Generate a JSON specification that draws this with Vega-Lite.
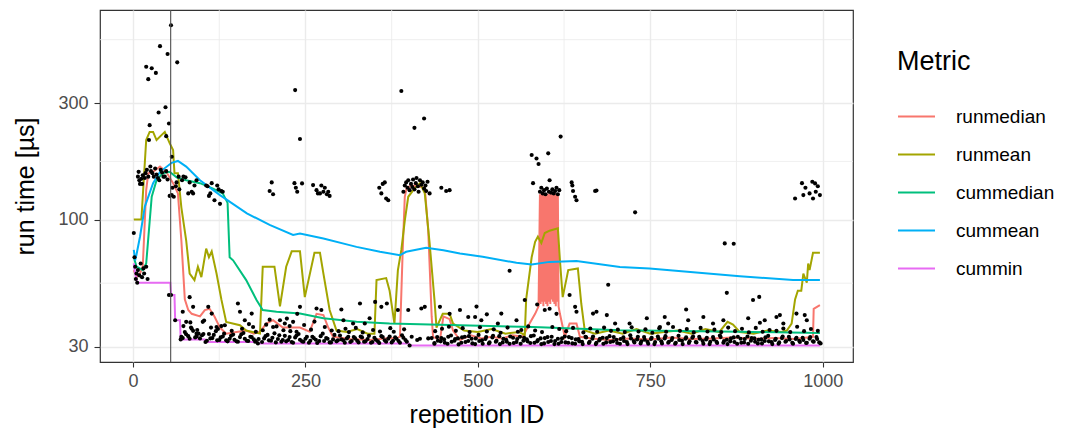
{
  "$schema": "https://vega.github.io/schema/vega-lite/v6.json",
  "width": 753,
  "height": 352,
  "autosize": {"type": "none"},
  "padding": {"left": 100, "top": 10, "right": 236, "bottom": 74},
  "background": "white",
  "config": {
    "font": "Liberation Sans",
    "view": {"stroke": "#333333", "strokeWidth": 1.2},
    "axis": {"domain": false, "gridColor": "#EBEBEB", "gridWidth": 1.4, "tickColor": "#333333", "tickWidth": 1.1, "labelColor": "#4D4D4D", "labelFontSize": 18, "titleFontSize": 25, "titleFontWeight": "normal", "titleColor": "black"},
    "legend": {"padding": 0}
  },
  "datasets": {
    "gx": [{"x": 125}, {"x": 375}, {"x": 625}, {"x": 875}],
    "gy": [{"y": 54.77}, {"y": 173.2}, {"y": 547.7}],
    "vl": [{"x": 54.5}],
    "lns": [
      {"x":1,"y":62,"m":"runmedian"},{"x":5,"y":58,"m":"runmedian"},{"x":10,"y":60,"m":"runmedian"},{"x":14,"y":64,"m":"runmedian"},{"x":17,"y":99,"m":"runmedian"},{"x":19,"y":132,"m":"runmedian"},{"x":22,"y":155,"m":"runmedian"},{"x":29,"y":157,"m":"runmedian"},{"x":39,"y":165,"m":"runmedian"},{"x":48,"y":157,"m":"runmedian"},{"x":58,"y":141,"m":"runmedian"},{"x":65,"y":128,"m":"runmedian"},{"x":70,"y":82,"m":"runmedian"},{"x":75,"y":47,"m":"runmedian"},{"x":80,"y":42.5,"m":"runmedian"},{"x":85,"y":41,"m":"runmedian"},{"x":97,"y":40,"m":"runmedian"},{"x":104,"y":42.5,"m":"runmedian"},{"x":111,"y":43,"m":"runmedian"},{"x":118,"y":40,"m":"runmedian"},{"x":126,"y":36,"m":"runmedian"},{"x":135,"y":34,"m":"runmedian"},{"x":150,"y":34.5,"m":"runmedian"},{"x":164,"y":35,"m":"runmedian"},{"x":175,"y":34,"m":"runmedian"},{"x":184,"y":34.6,"m":"runmedian"},{"x":193,"y":37.4,"m":"runmedian"},{"x":203,"y":38.6,"m":"runmedian"},{"x":217,"y":36,"m":"runmedian"},{"x":232,"y":36,"m":"runmedian"},{"x":242,"y":36,"m":"runmedian"},{"x":256,"y":34.6,"m":"runmedian"},{"x":266,"y":41,"m":"runmedian"},{"x":276,"y":40.5,"m":"runmedian"},{"x":283,"y":36,"m":"runmedian"},{"x":290,"y":33,"m":"runmedian"},{"x":314,"y":32.3,"m":"runmedian"},{"x":343,"y":32,"m":"runmedian"},{"x":365,"y":32.5,"m":"runmedian"},{"x":382,"y":32.6,"m":"runmedian"},{"x":387,"y":33,"m":"runmedian"},{"x":391,"y":75,"m":"runmedian"},{"x":394,"y":124,"m":"runmedian"},{"x":397,"y":136,"m":"runmedian"},{"x":408,"y":138,"m":"runmedian"},{"x":423,"y":135,"m":"runmedian"},{"x":428,"y":90,"m":"runmedian"},{"x":433,"y":40,"m":"runmedian"},{"x":435,"y":33,"m":"runmedian"},{"x":445,"y":32,"m":"runmedian"},{"x":450,"y":40,"m":"runmedian"},{"x":459,"y":39,"m":"runmedian"},{"x":464,"y":35,"m":"runmedian"},{"x":474,"y":32,"m":"runmedian"},{"x":490,"y":33.5,"m":"runmedian"},{"x":505,"y":32.5,"m":"runmedian"},{"x":520,"y":33,"m":"runmedian"},{"x":535,"y":32.5,"m":"runmedian"},{"x":550,"y":33.5,"m":"runmedian"},{"x":565,"y":33,"m":"runmedian"},{"x":575,"y":37.4,"m":"runmedian"},{"x":583,"y":41,"m":"runmedian"},{"x":588,"y":44,"m":"runmedian"},{"x":590,"y":127,"m":"runmedian"},{"x":591,"y":45,"m":"runmedian"},{"x":592,"y":128,"m":"runmedian"},{"x":593,"y":46,"m":"runmedian"},{"x":594,"y":127,"m":"runmedian"},{"x":595,"y":44,"m":"runmedian"},{"x":596,"y":128,"m":"runmedian"},{"x":597,"y":46,"m":"runmedian"},{"x":598,"y":127,"m":"runmedian"},{"x":599,"y":45,"m":"runmedian"},{"x":600,"y":128,"m":"runmedian"},{"x":601,"y":44,"m":"runmedian"},{"x":602,"y":127,"m":"runmedian"},{"x":603,"y":46,"m":"runmedian"},{"x":604,"y":128,"m":"runmedian"},{"x":605,"y":45,"m":"runmedian"},{"x":606,"y":127,"m":"runmedian"},{"x":607,"y":47,"m":"runmedian"},{"x":608,"y":128,"m":"runmedian"},{"x":609,"y":46,"m":"runmedian"},{"x":610,"y":127,"m":"runmedian"},{"x":611,"y":45,"m":"runmedian"},{"x":612,"y":128,"m":"runmedian"},{"x":613,"y":44,"m":"runmedian"},{"x":614,"y":127,"m":"runmedian"},{"x":615,"y":46,"m":"runmedian"},{"x":616,"y":126,"m":"runmedian"},{"x":617,"y":44,"m":"runmedian"},{"x":619,"y":41,"m":"runmedian"},{"x":626,"y":33,"m":"runmedian"},{"x":633,"y":37.4,"m":"runmedian"},{"x":643,"y":37.4,"m":"runmedian"},{"x":648,"y":33,"m":"runmedian"},{"x":665,"y":32.5,"m":"runmedian"},{"x":690,"y":32,"m":"runmedian"},{"x":720,"y":32.5,"m":"runmedian"},{"x":750,"y":32.2,"m":"runmedian"},{"x":780,"y":32.8,"m":"runmedian"},{"x":810,"y":32.3,"m":"runmedian"},{"x":840,"y":32.5,"m":"runmedian"},{"x":870,"y":32.8,"m":"runmedian"},{"x":900,"y":32.4,"m":"runmedian"},{"x":930,"y":32.6,"m":"runmedian"},{"x":960,"y":32.3,"m":"runmedian"},{"x":986,"y":33,"m":"runmedian"},{"x":987,"y":43,"m":"runmedian"},{"x":996,"y":44.5,"m":"runmedian"},
      {"x":1,"y":100,"m":"runmean"},{"x":12,"y":100,"m":"runmean"},{"x":19,"y":212,"m":"runmean"},{"x":24,"y":229,"m":"runmean"},{"x":29,"y":229,"m":"runmean"},{"x":34,"y":212,"m":"runmean"},{"x":46,"y":229,"m":"runmean"},{"x":53,"y":206,"m":"runmean"},{"x":58,"y":193,"m":"runmean"},{"x":60,"y":155,"m":"runmean"},{"x":65,"y":155,"m":"runmean"},{"x":70,"y":112,"m":"runmean"},{"x":77,"y":82,"m":"runmean"},{"x":82,"y":60,"m":"runmean"},{"x":89,"y":56.4,"m":"runmean"},{"x":94,"y":64,"m":"runmean"},{"x":99,"y":58,"m":"runmean"},{"x":106,"y":76,"m":"runmean"},{"x":110,"y":70,"m":"runmean"},{"x":114,"y":74,"m":"runmean"},{"x":121,"y":60,"m":"runmean"},{"x":128,"y":47,"m":"runmean"},{"x":135,"y":38,"m":"runmean"},{"x":155,"y":36.8,"m":"runmean"},{"x":164,"y":35,"m":"runmean"},{"x":184,"y":34,"m":"runmean"},{"x":188,"y":64,"m":"runmean"},{"x":205,"y":64,"m":"runmean"},{"x":213,"y":44,"m":"runmean"},{"x":222,"y":64,"m":"runmean"},{"x":230,"y":74,"m":"runmean"},{"x":242,"y":74,"m":"runmean"},{"x":249,"y":48,"m":"runmean"},{"x":263,"y":73,"m":"runmean"},{"x":271,"y":73,"m":"runmean"},{"x":276,"y":60,"m":"runmean"},{"x":285,"y":42.5,"m":"runmean"},{"x":295,"y":35,"m":"runmean"},{"x":310,"y":34.5,"m":"runmean"},{"x":325,"y":35.5,"m":"runmean"},{"x":340,"y":34,"m":"runmean"},{"x":350,"y":34,"m":"runmean"},{"x":353,"y":56.4,"m":"runmean"},{"x":367,"y":57.5,"m":"runmean"},{"x":372,"y":51,"m":"runmean"},{"x":379,"y":37.4,"m":"runmean"},{"x":384,"y":62,"m":"runmean"},{"x":389,"y":75,"m":"runmean"},{"x":394,"y":99,"m":"runmean"},{"x":399,"y":124,"m":"runmean"},{"x":408,"y":134,"m":"runmean"},{"x":416,"y":141,"m":"runmean"},{"x":423,"y":128,"m":"runmean"},{"x":430,"y":80,"m":"runmean"},{"x":437,"y":47,"m":"runmean"},{"x":440,"y":36,"m":"runmean"},{"x":449,"y":41,"m":"runmean"},{"x":459,"y":41,"m":"runmean"},{"x":464,"y":37.4,"m":"runmean"},{"x":480,"y":35,"m":"runmean"},{"x":500,"y":34.5,"m":"runmean"},{"x":520,"y":35.5,"m":"runmean"},{"x":540,"y":34,"m":"runmean"},{"x":560,"y":34.5,"m":"runmean"},{"x":568,"y":33.5,"m":"runmean"},{"x":570,"y":47,"m":"runmean"},{"x":578,"y":70,"m":"runmean"},{"x":583,"y":81,"m":"runmean"},{"x":587,"y":85,"m":"runmean"},{"x":592,"y":80,"m":"runmean"},{"x":597,"y":88,"m":"runmean"},{"x":604,"y":90,"m":"runmean"},{"x":616,"y":92,"m":"runmean"},{"x":619,"y":68,"m":"runmean"},{"x":623,"y":48,"m":"runmean"},{"x":629,"y":58,"m":"runmean"},{"x":631,"y":62,"m":"runmean"},{"x":645,"y":63,"m":"runmean"},{"x":650,"y":45,"m":"runmean"},{"x":655,"y":35,"m":"runmean"},{"x":670,"y":34,"m":"runmean"},{"x":690,"y":35,"m":"runmean"},{"x":710,"y":34,"m":"runmean"},{"x":730,"y":35.5,"m":"runmean"},{"x":750,"y":34,"m":"runmean"},{"x":770,"y":34.5,"m":"runmean"},{"x":790,"y":35,"m":"runmean"},{"x":810,"y":34,"m":"runmean"},{"x":830,"y":35.5,"m":"runmean"},{"x":850,"y":34.5,"m":"runmean"},{"x":862,"y":38,"m":"runmean"},{"x":870,"y":37,"m":"runmean"},{"x":880,"y":34.5,"m":"runmean"},{"x":900,"y":34,"m":"runmean"},{"x":920,"y":35,"m":"runmean"},{"x":940,"y":34.5,"m":"runmean"},{"x":948,"y":35,"m":"runmean"},{"x":955,"y":37.4,"m":"runmean"},{"x":960,"y":47,"m":"runmean"},{"x":964,"y":51,"m":"runmean"},{"x":969,"y":51,"m":"runmean"},{"x":972,"y":60,"m":"runmean"},{"x":977,"y":55,"m":"runmean"},{"x":979,"y":66,"m":"runmean"},{"x":981,"y":62,"m":"runmean"},{"x":986,"y":73,"m":"runmean"},{"x":996,"y":73,"m":"runmean"},
      {"x":1,"y":70,"m":"cummedian"},{"x":5,"y":64,"m":"cummedian"},{"x":14,"y":62,"m":"cummedian"},{"x":19,"y":66,"m":"cummedian"},{"x":24,"y":98,"m":"cummedian"},{"x":27,"y":124,"m":"cummedian"},{"x":34,"y":145,"m":"cummedian"},{"x":43,"y":155,"m":"cummedian"},{"x":53,"y":157,"m":"cummedian"},{"x":63,"y":149,"m":"cummedian"},{"x":77,"y":145,"m":"cummedian"},{"x":97,"y":141,"m":"cummedian"},{"x":116,"y":134,"m":"cummedian"},{"x":130,"y":128,"m":"cummedian"},{"x":137,"y":117,"m":"cummedian"},{"x":140,"y":70,"m":"cummedian"},{"x":145,"y":68,"m":"cummedian"},{"x":164,"y":56.4,"m":"cummedian"},{"x":179,"y":46.7,"m":"cummedian"},{"x":188,"y":42.5,"m":"cummedian"},{"x":208,"y":41.8,"m":"cummedian"},{"x":242,"y":41.1,"m":"cummedian"},{"x":276,"y":39.3,"m":"cummedian"},{"x":324,"y":38,"m":"cummedian"},{"x":372,"y":37.4,"m":"cummedian"},{"x":474,"y":36.8,"m":"cummedian"},{"x":580,"y":36.2,"m":"cummedian"},{"x":706,"y":35.1,"m":"cummedian"},{"x":880,"y":34.6,"m":"cummedian"},{"x":996,"y":34.2,"m":"cummedian"},
      {"x":1,"y":75,"m":"cummean"},{"x":3,"y":68,"m":"cummean"},{"x":5,"y":72,"m":"cummean"},{"x":10,"y":85,"m":"cummean"},{"x":17,"y":113,"m":"cummean"},{"x":29,"y":141,"m":"cummean"},{"x":39,"y":157,"m":"cummean"},{"x":56,"y":171,"m":"cummean"},{"x":65,"y":174,"m":"cummean"},{"x":77,"y":165,"m":"cummean"},{"x":97,"y":145,"m":"cummean"},{"x":126,"y":126,"m":"cummean"},{"x":165,"y":106,"m":"cummean"},{"x":198,"y":95,"m":"cummean"},{"x":232,"y":86.5,"m":"cummean"},{"x":242,"y":87.7,"m":"cummean"},{"x":276,"y":83.6,"m":"cummean"},{"x":314,"y":78.5,"m":"cummean"},{"x":324,"y":77.2,"m":"cummean"},{"x":358,"y":73.7,"m":"cummean"},{"x":387,"y":71.4,"m":"cummean"},{"x":396,"y":73.7,"m":"cummean"},{"x":425,"y":76.5,"m":"cummean"},{"x":450,"y":74.8,"m":"cummean"},{"x":474,"y":72.6,"m":"cummean"},{"x":507,"y":70.3,"m":"cummean"},{"x":556,"y":66.4,"m":"cummean"},{"x":578,"y":65.4,"m":"cummean"},{"x":604,"y":67,"m":"cummean"},{"x":643,"y":67.5,"m":"cummean"},{"x":706,"y":63.9,"m":"cummean"},{"x":749,"y":63,"m":"cummean"},{"x":880,"y":58.5,"m":"cummean"},{"x":957,"y":56.4,"m":"cummean"},{"x":996,"y":56.4,"m":"cummean"},
      {"x":1,"y":66,"m":"cummin"},{"x":3,"y":60,"m":"cummin"},{"x":6,"y":55,"m":"cummin"},{"x":54,"y":55,"m":"cummin"},{"x":55,"y":49,"m":"cummin"},{"x":60,"y":49,"m":"cummin"},{"x":61,"y":38.6,"m":"cummin"},{"x":68,"y":38.6,"m":"cummin"},{"x":69,"y":32.2,"m":"cummin"},{"x":104,"y":32.2,"m":"cummin"},{"x":105,"y":31.4,"m":"cummin"},{"x":180,"y":31.4,"m":"cummin"},{"x":181,"y":31.0,"m":"cummin"},{"x":400,"y":31.0,"m":"cummin"},{"x":401,"y":30.4,"m":"cummin"},{"x":996,"y":30.4,"m":"cummin"}
    ],
    "pts": [
      {"x":1,"y":88},{"x":2,"y":70},{"x":3,"y":64},{"x":4,"y":57},{"x":5,"y":60},{"x":6,"y":55},{"x":7,"y":62},{"x":9,"y":59},{"x":11,"y":66},{"x":13,"y":58},{"x":15,"y":63},{"x":16,"y":60},{"x":19,"y":64},{"x":21,"y":57},
      {"x":7,"y":150},{"x":8,"y":157},{"x":9,"y":145},{"x":10,"y":140},{"x":12,"y":147},{"x":13,"y":140},{"x":14,"y":152},{"x":17,"y":148},{"x":18,"y":155},{"x":20,"y":160},{"x":22,"y":150},{"x":25,"y":165},{"x":26,"y":158},{"x":28,"y":155},{"x":30,"y":150},{"x":32,"y":162},{"x":34,"y":153},{"x":36,"y":148},{"x":38,"y":145},{"x":40,"y":160},{"x":42,"y":156},{"x":44,"y":150},{"x":46,"y":150},{"x":48,"y":158},{"x":50,"y":146},{"x":52,"y":49},{"x":53,"y":125},{"x":55,"y":49},{"x":56,"y":126},{"x":57,"y":135},{"x":59,"y":124},{"x":61,"y":38.6},{"x":62,"y":137},{"x":63,"y":142},{"x":66,"y":150},{"x":67,"y":133},{"x":69,"y":32.2},
      {"x":19,"y":424},{"x":22,"y":377},{"x":23,"y":212},{"x":24,"y":244},{"x":27,"y":418},{"x":33,"y":400},{"x":37,"y":275},{"x":39,"y":515},{"x":47,"y":289},{"x":48,"y":220},{"x":50,"y":478},{"x":52,"y":248},{"x":55,"y":628},{"x":56,"y":181},{"x":64,"y":442},
      {"x":71,"y":145},{"x":73,"y":150},{"x":76,"y":149},{"x":80,"y":128},{"x":82,"y":142},{"x":85,"y":130},{"x":87,"y":128},{"x":89,"y":138},{"x":92,"y":145},{"x":106,"y":138},{"x":108,"y":137},{"x":110,"y":125},{"x":112,"y":128},{"x":114,"y":141},{"x":118,"y":120},{"x":122,"y":138},{"x":124,"y":133},{"x":126,"y":116},{"x":128,"y":131},{"x":130,"y":130},
      {"x":72,"y":41.8},{"x":77,"y":38},{"x":82,"y":48},{"x":84,"y":36},{"x":87,"y":43.8},{"x":92,"y":34},{"x":101,"y":38},{"x":109,"y":43.8},{"x":114,"y":41.1},{"x":121,"y":36.2},{"x":128,"y":36.5},{"x":152,"y":45.2},{"x":155,"y":41.8},{"x":162,"y":38.6},{"x":172,"y":41.1},{"x":174,"y":36.2},{"x":188,"y":35.1},{"x":203,"y":36.2},{"x":213,"y":38.6},{"x":220,"y":37.4},{"x":227,"y":36.5},{"x":232,"y":38},{"x":237,"y":34.6},{"x":242,"y":43.8},{"x":238,"y":41},{"x":266,"y":43.1},{"x":273,"y":42.5},{"x":302,"y":42.7},{"x":305,"y":38.6},{"x":319,"y":37.4},{"x":329,"y":45.2},{"x":336,"y":37.4},{"x":343,"y":39.3},{"x":351,"y":45.9},{"x":360,"y":43.8},{"x":368,"y":45.2},{"x":384,"y":42.5},{"x":399,"y":42.5},{"x":418,"y":43.1},{"x":423,"y":43.8},{"x":445,"y":43.8},{"x":459,"y":41},{"x":474,"y":42.5},{"x":486,"y":39.8},{"x":496,"y":39.8},{"x":498,"y":43.9},{"x":505,"y":38.6},{"x":513,"y":40.8},{"x":529,"y":37.4},{"x":534,"y":41.1},{"x":556,"y":38.6},{"x":568,"y":46.7},{"x":586,"y":44.8},{"x":597,"y":42.5},{"x":604,"y":43},{"x":614,"y":41},{"x":633,"y":49},{"x":641,"y":43.8},{"x":643,"y":41.8},{"x":667,"y":41.1},{"x":672,"y":41.8},{"x":687,"y":40.5},{"x":699,"y":37.4},{"x":720,"y":37.4},{"x":745,"y":39.3},{"x":764,"y":36.2},{"x":771,"y":39.8},{"x":776,"y":37.4},{"x":802,"y":42.7},{"x":805,"y":38.6},{"x":827,"y":39.8},{"x":841,"y":37.4},{"x":856,"y":38.6},{"x":892,"y":39.3},{"x":899,"y":46.7},{"x":908,"y":48.1},{"x":909,"y":37.7},{"x":916,"y":38.6},{"x":933,"y":39.8},{"x":938,"y":40.5},{"x":943,"y":37.4},{"x":962,"y":41.1},{"x":974,"y":40.5},{"x":977,"y":38.6},
      {"x":546,"y":61.6},{"x":689,"y":54},{"x":861,"y":50},{"x":858,"y":79.8},{"x":871,"y":79.5},{"x":728,"y":107},
      {"x":201,"y":142},{"x":198,"y":131},{"x":203,"y":127},{"x":234,"y":141},{"x":245,"y":140.7},{"x":238,"y":130},{"x":236,"y":135},{"x":261,"y":138.5},{"x":266,"y":132},{"x":268,"y":128},{"x":271,"y":128},{"x":273,"y":138},{"x":276,"y":130},{"x":278,"y":135},{"x":281,"y":127},{"x":283,"y":130},{"x":285,"y":125},
      {"x":235,"y":340},{"x":242,"y":214},
      {"x":357,"y":135},{"x":360,"y":128},{"x":362,"y":140},{"x":365,"y":142},{"x":367,"y":122},{"x":370,"y":120},
      {"x":389,"y":337},{"x":408,"y":238},{"x":422,"y":260},
      {"x":392,"y":130},{"x":394,"y":138},{"x":396,"y":142},{"x":398,"y":135},{"x":399,"y":145},{"x":401,"y":132},{"x":403,"y":140},{"x":405,"y":136},{"x":406,"y":146},{"x":408,"y":133},{"x":410,"y":141},{"x":411,"y":148},{"x":413,"y":137},{"x":414,"y":130},{"x":416,"y":145},{"x":418,"y":139},{"x":420,"y":142},{"x":422,"y":134},{"x":424,"y":138},{"x":425,"y":131},{"x":427,"y":143},{"x":430,"y":128},
      {"x":404,"y":33},{"x":412,"y":32},{"x":428,"y":32.5},
      {"x":454,"y":131},{"x":459,"y":132},{"x":447,"y":135},
      {"x":578,"y":184},{"x":585,"y":178},{"x":588,"y":169},{"x":602,"y":187},{"x":620,"y":219},{"x":580,"y":141},{"x":590,"y":130},{"x":592,"y":135},{"x":594,"y":128},{"x":596,"y":132},{"x":598,"y":127},{"x":600,"y":134},{"x":603,"y":130},{"x":604,"y":145},{"x":606,"y":129},{"x":608,"y":133},{"x":610,"y":128},{"x":612,"y":131},{"x":614,"y":135},{"x":616,"y":127},{"x":618,"y":132},{"x":636,"y":142},{"x":638,"y":131},{"x":641,"y":124},{"x":643,"y":120},{"x":637,"y":138},{"x":670,"y":131},{"x":672,"y":131.5},
      {"x":960,"y":122},{"x":970,"y":141},{"x":972,"y":126},{"x":981,"y":128},{"x":985,"y":143},{"x":986,"y":122},{"x":989,"y":140.7},{"x":993,"y":137},{"x":996,"y":126},{"x":975,"y":135},{"x":990,"y":130},
      {"x":70,"y":33.0},{"x":75,"y":34.5},{"x":80,"y":33.2},{"x":85,"y":35.6},{"x":90,"y":32.8},{"x":95,"y":34.0},{"x":100,"y":33.5},{"x":105,"y":31.4},{"x":110,"y":33.9},{"x":115,"y":32.6},{"x":120,"y":34.8},{"x":125,"y":32.0},{"x":130,"y":33.1},{"x":135,"y":31.9},{"x":140,"y":32.4},{"x":145,"y":33.7},{"x":150,"y":31.6},{"x":155,"y":32.9},{"x":160,"y":34.2},{"x":165,"y":31.8},{"x":170,"y":33.0},{"x":175,"y":32.2},{"x":178,"y":31.7},{"x":181,"y":31.0},{"x":190,"y":32.5},{"x":195,"y":33.6},{"x":200,"y":31.8},{"x":205,"y":34.1},{"x":210,"y":32.3},{"x":215,"y":31.5},{"x":220,"y":33.3},{"x":225,"y":32.0},{"x":230,"y":31.4},{"x":235,"y":32.8},{"x":240,"y":33.9},{"x":245,"y":31.6},{"x":250,"y":32.4},{"x":255,"y":31.2},{"x":260,"y":33.0},{"x":265,"y":32.1},{"x":270,"y":31.7},{"x":275,"y":34.0},{"x":280,"y":32.6},{"x":285,"y":31.3},{"x":290,"y":32.2},{"x":295,"y":31.6},{"x":300,"y":33.4},{"x":305,"y":31.9},{"x":310,"y":32.5},{"x":315,"y":31.4},{"x":320,"y":32.9},{"x":325,"y":31.8},{"x":330,"y":33.1},{"x":335,"y":31.5},{"x":340,"y":32.3},{"x":345,"y":31.2},{"x":350,"y":32.7},{"x":355,"y":31.6},{"x":360,"y":33.2},{"x":365,"y":31.9},{"x":370,"y":32.4},{"x":375,"y":31.3},{"x":380,"y":32.8},{"x":385,"y":31.7},{"x":390,"y":33.5},{"x":395,"y":32.0},{"x":401,"y":30.4},{"x":416,"y":32.4},{"x":433,"y":32.6},{"x":437,"y":31.1},{"x":441,"y":32.9},{"x":446,"y":31.6},{"x":451,"y":32.2},{"x":456,"y":30.9},{"x":461,"y":33.4},{"x":466,"y":31.8},{"x":471,"y":32.5},{"x":476,"y":31.2},{"x":481,"y":33.0},{"x":486,"y":31.7},{"x":491,"y":32.4},{"x":496,"y":30.8},{"x":501,"y":33.6},{"x":506,"y":31.9},{"x":511,"y":32.3},{"x":516,"y":31.0},{"x":521,"y":32.8},{"x":526,"y":31.5},{"x":531,"y":33.2},{"x":536,"y":31.3},{"x":541,"y":32.1},{"x":546,"y":30.9},{"x":551,"y":32.7},{"x":556,"y":31.4},{"x":561,"y":33.0},{"x":566,"y":31.8},{"x":571,"y":32.2},{"x":576,"y":31.1},{"x":581,"y":33.4},{"x":586,"y":31.6},{"x":591,"y":32.5},{"x":596,"y":31.0},{"x":601,"y":32.9},{"x":606,"y":31.7},{"x":611,"y":30.8},{"x":616,"y":32.4},{"x":621,"y":31.4},{"x":626,"y":33.1},{"x":631,"y":31.2},{"x":636,"y":32.6},{"x":641,"y":30.9},{"x":646,"y":32.3},{"x":651,"y":31.5},{"x":656,"y":33.0},{"x":661,"y":31.1},{"x":666,"y":32.4},{"x":671,"y":30.8},{"x":676,"y":31.9},{"x":681,"y":32.7},{"x":686,"y":31.3},{"x":691,"y":33.2},{"x":696,"y":31.6},{"x":701,"y":32.1},{"x":706,"y":30.9},{"x":711,"y":32.8},{"x":716,"y":31.4},{"x":721,"y":33.5},{"x":726,"y":31.7},{"x":731,"y":32.2},{"x":736,"y":31.0},{"x":741,"y":32.9},{"x":746,"y":31.5},{"x":751,"y":32.3},{"x":756,"y":30.8},{"x":761,"y":33.1},{"x":766,"y":31.6},{"x":771,"y":32.5},{"x":776,"y":31.2},{"x":781,"y":32.0},{"x":786,"y":30.9},{"x":791,"y":33.3},{"x":796,"y":31.8},{"x":801,"y":32.4},{"x":806,"y":31.1},{"x":811,"y":32.7},{"x":816,"y":31.4},{"x":821,"y":33.0},{"x":826,"y":31.7},{"x":831,"y":32.2},{"x":836,"y":30.8},{"x":841,"y":32.9},{"x":846,"y":31.5},{"x":851,"y":33.4},{"x":856,"y":31.2},{"x":861,"y":32.1},{"x":866,"y":31.6},{"x":871,"y":32.8},{"x":876,"y":30.9},{"x":881,"y":32.4},{"x":886,"y":31.3},{"x":891,"y":33.1},{"x":896,"y":31.8},{"x":901,"y":32.5},{"x":906,"y":31.0},{"x":911,"y":32.2},{"x":916,"y":31.7},{"x":921,"y":33.3},{"x":926,"y":31.4},{"x":931,"y":32.0},{"x":936,"y":30.9},{"x":941,"y":32.6},{"x":946,"y":31.5},{"x":951,"y":33.0},{"x":956,"y":31.2},{"x":961,"y":32.3},{"x":966,"y":31.8},{"x":971,"y":32.7},{"x":976,"y":31.1},{"x":981,"y":32.4},{"x":986,"y":31.6},{"x":991,"y":32.9},{"x":995,"y":31.3},
      {"x":73,"y":36.5},{"x":83,"y":37.8},{"x":93,"y":35.2},{"x":103,"y":38.5},{"x":113,"y":36.0},{"x":123,"y":35.5},{"x":133,"y":36.8},{"x":143,"y":34.9},{"x":158,"y":35.6},{"x":168,"y":37.2},{"x":178,"y":34.6},{"x":193,"y":37.0},{"x":198,"y":38.8},{"x":208,"y":36.4},{"x":218,"y":35.1},{"x":223,"y":39.2},{"x":228,"y":34.8},{"x":248,"y":36.9},{"x":258,"y":35.3},{"x":263,"y":38.1},{"x":278,"y":36.2},{"x":288,"y":35.0},{"x":298,"y":34.8},{"x":308,"y":35.6},{"x":313,"y":34.5},{"x":323,"y":35.9},{"x":333,"y":34.4},{"x":348,"y":35.2},{"x":358,"y":34.7},{"x":373,"y":35.8},{"x":378,"y":34.6},{"x":393,"y":35.4},{"x":438,"y":34.8},{"x":448,"y":35.6},{"x":458,"y":36.3},{"x":468,"y":34.9},{"x":478,"y":35.8},{"x":488,"y":34.5},{"x":503,"y":36.1},{"x":513,"y":34.7},{"x":523,"y":35.4},{"x":533,"y":34.3},{"x":543,"y":36.0},{"x":558,"y":34.6},{"x":563,"y":35.2},{"x":573,"y":36.4},{"x":583,"y":35.0},{"x":593,"y":34.5},{"x":608,"y":36.2},{"x":618,"y":35.5},{"x":628,"y":34.8},{"x":638,"y":35.9},{"x":653,"y":34.4},{"x":663,"y":35.7},{"x":673,"y":34.6},{"x":683,"y":36.0},{"x":693,"y":34.9},{"x":703,"y":35.3},{"x":713,"y":34.5},{"x":723,"y":36.1},{"x":733,"y":34.7},{"x":743,"y":35.4},{"x":753,"y":34.3},{"x":763,"y":35.8},{"x":773,"y":34.6},{"x":783,"y":36.2},{"x":793,"y":34.9},{"x":803,"y":35.5},{"x":813,"y":34.4},{"x":823,"y":35.9},{"x":833,"y":34.7},{"x":843,"y":35.3},{"x":853,"y":34.5},{"x":863,"y":36.0},{"x":873,"y":34.8},{"x":883,"y":35.6},{"x":893,"y":34.4},{"x":903,"y":35.9},{"x":913,"y":34.6},{"x":923,"y":35.2},{"x":933,"y":34.9},{"x":943,"y":35.7},{"x":953,"y":34.5},{"x":963,"y":36.3},{"x":973,"y":34.8},{"x":983,"y":35.5},{"x":993,"y":34.9},
      {"x":72,"y":32.6},{"x":77,"y":33.8},{"x":82,"y":32.4},{"x":87,"y":34.9},{"x":92,"y":33.1},{"x":97,"y":32.5},{"x":102,"y":33.9},{"x":107,"y":31.8},{"x":112,"y":32.5},{"x":117,"y":33.6},{"x":122,"y":31.9},{"x":127,"y":32.8},{"x":132,"y":34.0},{"x":137,"y":31.6},{"x":142,"y":33.3},{"x":147,"y":32.1},{"x":152,"y":31.5},{"x":157,"y":33.8},{"x":162,"y":32.4},{"x":167,"y":31.7},{"x":172,"y":32.9},{"x":177,"y":31.5},{"x":182,"y":32.3},{"x":187,"y":31.4},{"x":192,"y":33.2},{"x":197,"y":31.9},{"x":202,"y":32.7},{"x":207,"y":31.3},{"x":212,"y":33.5},{"x":217,"y":32.0},{"x":222,"y":31.6},{"x":227,"y":32.9},{"x":232,"y":31.2},{"x":237,"y":33.4},{"x":242,"y":32.1},{"x":247,"y":31.5},{"x":252,"y":33.0},{"x":257,"y":31.8},{"x":262,"y":32.6},{"x":267,"y":31.1},{"x":272,"y":33.2},{"x":277,"y":31.7},{"x":282,"y":32.4},{"x":287,"y":31.3},{"x":292,"y":33.6},{"x":297,"y":31.9},{"x":302,"y":32.2},{"x":307,"y":31.2},{"x":312,"y":33.0},{"x":317,"y":31.7},{"x":322,"y":32.5},{"x":327,"y":31.3},{"x":332,"y":32.8},{"x":337,"y":31.6},{"x":342,"y":33.3},{"x":347,"y":31.4},{"x":352,"y":32.1},{"x":357,"y":31.1},{"x":362,"y":32.9},{"x":367,"y":31.5},{"x":372,"y":33.1},{"x":377,"y":31.8},{"x":382,"y":32.4},{"x":387,"y":31.2},{"x":392,"y":32.7},{"x":397,"y":31.5},{"x":437,"y":30.9},{"x":442,"y":31.8},{"x":447,"y":32.6},{"x":452,"y":31.2},{"x":457,"y":33.0},{"x":462,"y":31.5},{"x":467,"y":32.3},{"x":472,"y":30.7},{"x":477,"y":32.8},{"x":482,"y":31.4},{"x":487,"y":33.2},{"x":492,"y":31.0},{"x":497,"y":32.5},{"x":502,"y":31.7},{"x":507,"y":30.9},{"x":512,"y":32.9},{"x":517,"y":31.3},{"x":522,"y":33.3},{"x":527,"y":31.8},{"x":532,"y":30.8},{"x":537,"y":32.4},{"x":542,"y":31.5},{"x":547,"y":33.1},{"x":552,"y":31.1},{"x":557,"y":32.3},{"x":562,"y":30.9},{"x":567,"y":32.7},{"x":572,"y":31.6},{"x":577,"y":33.2},{"x":582,"y":31.2},{"x":587,"y":32.0},{"x":592,"y":30.8},{"x":597,"y":32.6},{"x":602,"y":31.4},{"x":607,"y":33.0},{"x":612,"y":31.7},{"x":617,"y":30.9},{"x":622,"y":32.5},{"x":627,"y":31.3},{"x":632,"y":32.9},{"x":637,"y":31.0},{"x":642,"y":32.2},{"x":647,"y":31.6},{"x":652,"y":30.8},{"x":657,"y":32.8},{"x":662,"y":31.5},{"x":667,"y":33.1},{"x":672,"y":31.2},{"x":677,"y":32.4},{"x":682,"y":30.9},{"x":687,"y":32.6},{"x":692,"y":31.4},{"x":697,"y":32.9},{"x":702,"y":31.1},{"x":707,"y":32.3},{"x":712,"y":31.7},{"x":717,"y":30.8},{"x":722,"y":32.5},{"x":727,"y":31.3},{"x":732,"y":33.0},{"x":737,"y":31.6},{"x":742,"y":32.1},{"x":747,"y":30.9},{"x":752,"y":32.7},{"x":757,"y":31.4},{"x":762,"y":32.4},{"x":767,"y":31.0},{"x":772,"y":33.2},{"x":777,"y":31.5},{"x":782,"y":32.6},{"x":787,"y":31.2},{"x":792,"y":32.0},{"x":797,"y":30.8},{"x":802,"y":32.8},{"x":807,"y":31.6},{"x":812,"y":33.1},{"x":817,"y":31.3},{"x":822,"y":32.4},{"x":827,"y":30.9},{"x":832,"y":32.7},{"x":837,"y":31.5},{"x":842,"y":32.2},{"x":847,"y":31.1},{"x":852,"y":32.9},{"x":857,"y":31.7},{"x":862,"y":30.8},{"x":867,"y":32.5},{"x":872,"y":31.4},{"x":877,"y":33.0},{"x":882,"y":31.2},{"x":887,"y":32.3},{"x":892,"y":30.9},{"x":897,"y":32.6},{"x":902,"y":31.5},{"x":907,"y":32.1},{"x":912,"y":31.0},{"x":917,"y":32.8},{"x":922,"y":31.6},{"x":927,"y":30.8},{"x":932,"y":32.4},{"x":937,"y":31.3},{"x":942,"y":33.1},{"x":947,"y":31.7},{"x":952,"y":32.2},{"x":957,"y":30.9},{"x":962,"y":32.7},{"x":967,"y":31.4},{"x":972,"y":32.0},{"x":977,"y":31.2},{"x":982,"y":32.9},{"x":987,"y":31.5},{"x":992,"y":32.3},{"x":997,"y":31.0}
    ]
  },
  "layer": [
    {
      "data": {"name": "gx"},
      "mark": {"type": "rule", "color": "#EBEBEB", "strokeWidth": 0.8},
      "encoding": {"x": {"field": "x", "type": "quantitative", "title": "repetition ID", "scale": {"domain": [-48, 1044], "nice": false, "zero": false}, "axis": {"values": [0, 250, 500, 750, 1000], "format": "d", "tickSize": 5, "labelPadding": 5, "titlePadding": 12}}}
    },
    {
      "data": {"name": "gy"},
      "mark": {"type": "rule", "color": "#EBEBEB", "strokeWidth": 0.8},
      "encoding": {"y": {"field": "y", "type": "quantitative", "title": "run time [µs]", "scale": {"type": "log", "domain": [26, 725], "nice": false, "zero": false}, "axis": {"values": [30, 100, 300], "tickSize": 6, "labelPadding": 6, "titleX": -62}}}
    },
    {
      "data": {"name": "lns"},
      "mark": {"type": "line", "strokeWidth": 2},
      "encoding": {
        "x": {"field": "x", "type": "quantitative", "title": "repetition ID", "scale": {"domain": [-48, 1044], "nice": false, "zero": false}, "axis": {"values": [0, 250, 500, 750, 1000], "format": "d", "tickSize": 5, "labelPadding": 5, "titlePadding": 12}},
        "y": {"field": "y", "type": "quantitative", "title": "run time [µs]", "scale": {"type": "log", "domain": [26, 725], "nice": false, "zero": false}, "axis": {"values": [30, 100, 300], "tickSize": 6, "labelPadding": 6, "titleX": -62}},
        "color": {"field": "m", "type": "nominal", "title": "Metric",
          "scale": {"domain": ["runmedian", "runmean", "cummedian", "cummean", "cummin"], "range": ["#F8766D", "#A3A500", "#00BF7D", "#00B0F6", "#E76BF3"]},
          "legend": {"orient": "none", "legendX": 797, "legendY": 39, "symbolType": "stroke", "symbolSize": 1369, "symbolStrokeWidth": 2, "labelFontSize": 19, "titleFontSize": 27, "titleFontWeight": "normal", "titleColor": "black", "labelColor": "black", "labelOffset": 20, "rowPadding": 8, "titlePadding": 21}
        }
      }
    },
    {
      "data": {"name": "pts"},
      "mark": {"type": "circle", "size": 17, "color": "black", "opacity": 1},
      "encoding": {
        "x": {"field": "x", "type": "quantitative", "title": "repetition ID", "scale": {"domain": [-48, 1044], "nice": false, "zero": false}, "axis": {"values": [0, 250, 500, 750, 1000], "format": "d", "tickSize": 5, "labelPadding": 5, "titlePadding": 12}},
        "y": {"field": "y", "type": "quantitative", "title": "run time [µs]", "scale": {"type": "log", "domain": [26, 725], "nice": false, "zero": false}, "axis": {"values": [30, 100, 300], "tickSize": 6, "labelPadding": 6, "titleX": -62}}
      }
    },
    {
      "data": {"name": "vl"},
      "mark": {"type": "rule", "color": "#4D4D4D", "strokeWidth": 1.1},
      "encoding": {"x": {"field": "x", "type": "quantitative", "title": "repetition ID", "scale": {"domain": [-48, 1044], "nice": false, "zero": false}, "axis": {"values": [0, 250, 500, 750, 1000], "format": "d", "tickSize": 5, "labelPadding": 5, "titlePadding": 12}}}
    }
  ]
}
